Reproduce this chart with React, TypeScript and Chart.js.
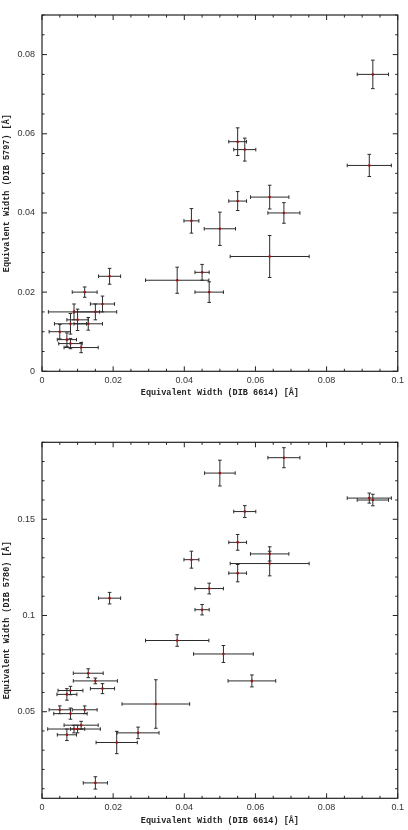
import React, { useEffect, useRef } from "react";
import { Chart, registerables } from "chart.js";
Chart.register(...registerables);

// ---- Top panel: DIB 5797 vs DIB 6614 ----
const topX = [0.093, 0.092, 0.055, 0.057, 0.055, 0.064, 0.068, 0.042, 0.050, 0.064, 0.038, 0.045, 0.047, 0.019, 0.012, 0.017, 0.015, 0.009, 0.010, 0.013, 0.008, 0.005, 0.007, 0.008, 0.011];
const topY = [0.075, 0.052, 0.058, 0.056, 0.043, 0.044, 0.040, 0.038, 0.036, 0.029, 0.023, 0.025, 0.020, 0.024, 0.020, 0.017, 0.015, 0.015, 0.013, 0.012, 0.012, 0.010, 0.008, 0.007, 0.006];
const topXErr = [0.0044, 0.0062, 0.0025, 0.0031, 0.0025, 0.0054, 0.0045, 0.0021, 0.0044, 0.0111, 0.0089, 0.0020, 0.0040, 0.0031, 0.0035, 0.0034, 0.0060, 0.0072, 0.0030, 0.0040, 0.0045, 0.0030, 0.0027, 0.0033, 0.0048];
const topYErr = [0.0036, 0.0028, 0.0035, 0.0029, 0.0024, 0.0030, 0.0026, 0.0031, 0.0042, 0.0053, 0.0033, 0.0020, 0.0026, 0.0020, 0.0013, 0.0020, 0.0020, 0.0020, 0.0027, 0.0016, 0.0026, 0.0018, 0.0017, 0.0013, 0.0013];

// ---- Bottom panel: DIB 5780 vs DIB 6614 ----
const botX = [0.068, 0.050, 0.092, 0.093, 0.057, 0.055, 0.064, 0.064, 0.042, 0.055, 0.047, 0.045, 0.019, 0.038, 0.051, 0.059, 0.013, 0.015, 0.017, 0.008, 0.007, 0.005, 0.008, 0.012, 0.032, 0.011, 0.010, 0.009, 0.007, 0.027, 0.021, 0.015];
const botY = [0.182, 0.174, 0.161, 0.160, 0.154, 0.138, 0.132, 0.127, 0.129, 0.122, 0.114, 0.103, 0.109, 0.087, 0.080, 0.066, 0.070, 0.066, 0.062, 0.061, 0.059, 0.051, 0.049, 0.051, 0.054, 0.043, 0.041, 0.041, 0.038, 0.039, 0.034, 0.013];
const botXErr = [0.0045, 0.0043, 0.0062, 0.0044, 0.0031, 0.0025, 0.0054, 0.0111, 0.0021, 0.0025, 0.0040, 0.0020, 0.0031, 0.0089, 0.0084, 0.0067, 0.0042, 0.0062, 0.0034, 0.0035, 0.0028, 0.0030, 0.0047, 0.0035, 0.0095, 0.0048, 0.0020, 0.0074, 0.0027, 0.0059, 0.0058, 0.0034];
const botYErr = [0.0052, 0.0067, 0.0026, 0.0030, 0.0031, 0.0041, 0.0037, 0.0064, 0.0044, 0.0045, 0.0028, 0.0027, 0.0030, 0.0030, 0.0044, 0.0031, 0.0023, 0.0015, 0.0026, 0.0022, 0.0030, 0.0020, 0.0029, 0.0020, 0.0126, 0.0020, 0.0020, 0.0020, 0.0030, 0.0030, 0.0058, 0.0032];

const xTitle = "Equivalent Width (DIB 6614) [Å]";
const topYTitle = "Equivalent Width (DIB 5797) [Å]";
const botYTitle = "Equivalent Width (DIB 5780) [Å]";

const fmt = (v: number) => String(+Number(v).toFixed(4));

const errorBarPlugin = {
  id: "errbars",
  beforeDatasetsDraw(chart: any) {
    const ctx = chart.ctx;
    const xs = chart.scales.x;
    const ys = chart.scales.y;
    const cap = 1.8;
    ctx.save();
    ctx.strokeStyle = "#2b2b2b";
    ctx.lineWidth = 1;
    chart.data.datasets.forEach((ds: any) => {
      ds.data.forEach((p: any, i: number) => {
        const px = xs.getPixelForValue(p.x);
        const py = ys.getPixelForValue(p.y);
        const x0 = xs.getPixelForValue(p.x - ds.xErr[i]);
        const x1 = xs.getPixelForValue(p.x + ds.xErr[i]);
        const y0 = ys.getPixelForValue(p.y - ds.yErr[i]);
        const y1 = ys.getPixelForValue(p.y + ds.yErr[i]);
        ctx.beginPath();
        ctx.moveTo(x0, py); ctx.lineTo(x1, py);
        ctx.moveTo(x0, py - cap); ctx.lineTo(x0, py + cap);
        ctx.moveTo(x1, py - cap); ctx.lineTo(x1, py + cap);
        ctx.moveTo(px, y0); ctx.lineTo(px, y1);
        ctx.moveTo(px - cap, y0); ctx.lineTo(px + cap, y0);
        ctx.moveTo(px - cap, y1); ctx.lineTo(px + cap, y1);
        ctx.stroke();
      });
    });
    ctx.restore();
  },
};

const framePlugin = {
  id: "frame",
  afterDraw(chart: any, _args: any, opts: any) {
    const ctx = chart.ctx;
    const { left, right, top, bottom } = chart.chartArea;
    const xs = chart.scales.x;
    const ys = chart.scales.y;
    const major = 5, minor = 2.5;
    ctx.save();
    ctx.strokeStyle = "#222";
    ctx.lineWidth = 1.2;
    ctx.strokeRect(left, top, right - left, bottom - top);
    ctx.lineWidth = 1;
    ctx.beginPath();
    const eps = 1e-9;
    // x ticks
    for (let v = xs.min; v <= xs.max + eps; v += opts.xMinor) {
      const val = Math.round(v / opts.xMinor) * opts.xMinor;
      const isMajor = Math.abs(val / opts.xMajor - Math.round(val / opts.xMajor)) < 1e-6;
      const L = isMajor ? major : minor;
      const px = xs.getPixelForValue(val);
      ctx.moveTo(px, bottom); ctx.lineTo(px, bottom - L);
      ctx.moveTo(px, top); ctx.lineTo(px, top + L);
    }
    // y ticks
    const start = Math.ceil(ys.min / opts.yMinor - 1e-6) * opts.yMinor;
    for (let v = start; v <= ys.max + eps; v += opts.yMinor) {
      const val = Math.round(v / opts.yMinor) * opts.yMinor;
      const isMajor = Math.abs(val / opts.yMajor - Math.round(val / opts.yMajor)) < 1e-6;
      const L = isMajor ? major : minor;
      const py = ys.getPixelForValue(val);
      ctx.moveTo(left, py); ctx.lineTo(left + L, py);
      ctx.moveTo(right, py); ctx.lineTo(right - L, py);
    }
    ctx.stroke();
    ctx.restore();
  },
};

function makeConfig(
  xs: number[], ys: number[], xe: number[], ye: number[],
  yTitle: string, yMin: number, yMax: number, yStep: number, yMinor: number,
  padTop: number, xAxisH: number, xTitlePadBottom: number
): any {
  const tickFont = { family: "'Liberation Sans', Arial, sans-serif", size: 9 };
  const titleFont = { family: "'Liberation Mono', 'Courier New', monospace", size: 8.5, weight: "bold" as const };
  return {
    type: "scatter",
    data: {
      datasets: [
        {
          data: xs.map((x, i) => ({ x, y: ys[i] })),
          xErr: xe,
          yErr: ye,
          pointRadius: 1.3,
          pointBackgroundColor: "#9a1414",
          pointBorderWidth: 0,
          pointHoverRadius: 1.3,
        },
      ],
    },
    options: {
      responsive: false,
      animation: false,
      events: [],
      layout: { padding: { left: 0, right: 10, top: padTop, bottom: 0 } },
      plugins: {
        legend: { display: false },
        tooltip: { enabled: false },
        frame: { xMinor: 0.005, xMajor: 0.02, yMinor, yMajor: yStep },
      },
      scales: {
        x: {
          type: "linear",
          min: 0,
          max: 0.1,
          grid: { display: false, drawTicks: false },
          border: { display: false },
          ticks: {
            stepSize: 0.02,
            includeBounds: false,
            padding: 4,
            maxRotation: 0,
            font: tickFont,
            color: "#333",
            callback: (v: number) => fmt(v),
          },
          title: {
            display: true,
            text: xTitle,
            font: titleFont,
            color: "#222",
            padding: { top: 0, bottom: xTitlePadBottom },
          },
          afterFit: (s: any) => { s.height = xAxisH; },
        },
        y: {
          type: "linear",
          min: yMin,
          max: yMax,
          grid: { display: false, drawTicks: false },
          border: { display: false },
          ticks: {
            stepSize: yStep,
            includeBounds: false,
            padding: 7,
            font: tickFont,
            color: "#333",
            callback: (v: number) => fmt(v),
          },
          title: {
            display: true,
            text: yTitle,
            font: titleFont,
            color: "#222",
            padding: { top: 1.9, bottom: 0 },
          },
          afterFit: (s: any) => { s.width = 42; },
        },
      },
    },
    plugins: [errorBarPlugin, framePlugin],
  };
}

function Panel(props: { cfg: () => any; top: number; height: number }) {
  const ref = useRef<HTMLCanvasElement | null>(null);
  useEffect(() => {
    if (!ref.current) return;
    const chart = new Chart(ref.current, props.cfg());
    return () => chart.destroy();
  }, []);
  return (
    <canvas
      ref={ref}
      width={408}
      height={props.height}
      style={{ position: "absolute", left: 0, top: props.top, width: 408, height: props.height }}
    />
  );
}

export default function App() {
  return (
    <div style={{ position: "absolute", left: 0, top: 0, width: 408, height: 830, background: "#fff" }}>
      <Panel
        top={0}
        height={400}
        cfg={() => makeConfig(topX, topY, topXErr, topYErr, topYTitle, 0, 0.09, 0.02, 0.005, 15, 28.7, 1.6)}
      />
      <Panel
        top={400}
        height={430}
        cfg={() => makeConfig(botX, botY, botXErr, botYErr, botYTitle, 0.005, 0.19, 0.05, 0.01, 42.3, 31.7, 4.2)}
      />
    </div>
  );
}
